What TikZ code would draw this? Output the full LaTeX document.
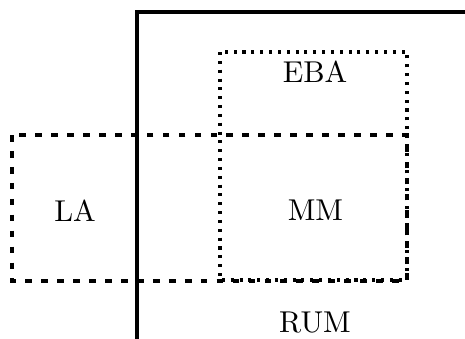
\documentclass[tikz,border=0pt]{standalone}
\begin{document}
\begin{tikzpicture}[x=0.345pt,y=-0.345pt,
  axis/.style={line width=1.4pt},
  dotbox/.style={line width=1.05pt,dotted},
  dashbox/.style={line width=1.05pt,dash pattern=on 2.3pt off 3.2pt},
  lbl/.style={inner sep=0pt,font=\fontsize{10.4}{12}\selectfont}]
\useasboundingbox (0,0) rectangle (465,339);
\coordinate (ab) at (137,339);
\coordinate (ac) at (137,12);
\coordinate (ar) at (465,12);
\coordinate (d1) at (220,52);
\coordinate (d2) at (407,280);
\coordinate (e1) at (12,135);
\coordinate (e2) at (407,281);
\draw[axis] (ab) -- (ac) -- (ar);
\draw[dotbox] (d1) rectangle (d2);
\draw[dashbox] (e1) rectangle (e2);
\node[lbl] (eba) at (315,71.5) {EBA};
\node[lbl] (la) at (75,210.5) {LA};
\node[lbl] (mm) at (315.5,210.5) {MM};
\node[lbl] (rum) at (315,323) {RUM};
\end{tikzpicture}
\end{document}
